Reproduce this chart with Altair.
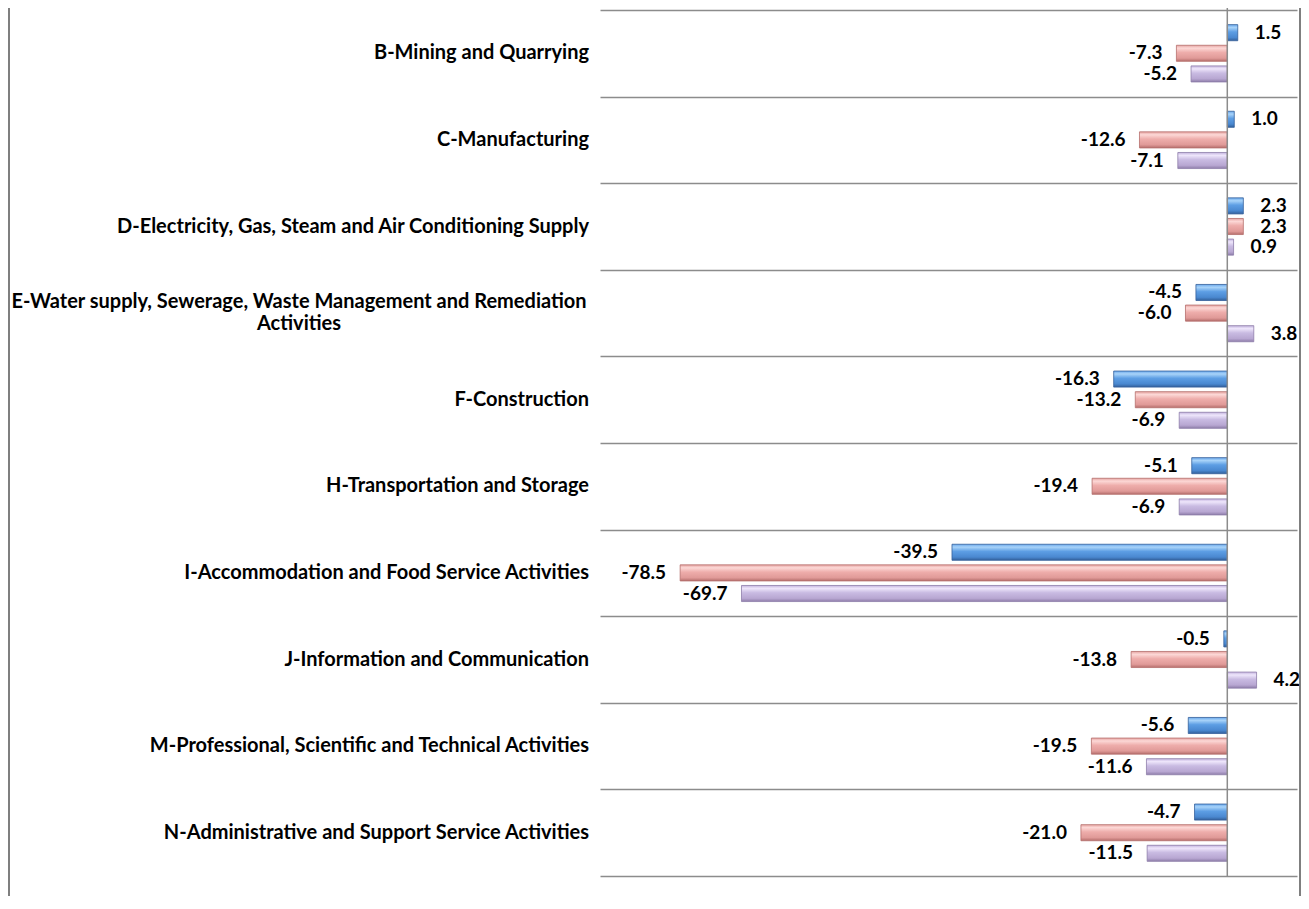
import altair as alt
import pandas as pd

categories = [
    "B-Mining and Quarrying",
    "C-Manufacturing",
    "D-Electricity, Gas, Steam and Air Conditioning Supply",
    "E-Water supply, Sewerage, Waste Management and Remediation|Activities",
    "F-Construction",
    "H-Transportation and Storage",
    "I-Accommodation and Food Service Activities",
    "J-Information and Communication",
    "M-Professional, Scientific and Technical Activities",
    "N-Administrative and Support Service Activities",
]
series = ["Series 1", "Series 2", "Series 3"]
series1 = [1.5, 1.0, 2.3, -4.5, -16.3, -5.1, -39.5, -0.5, -5.6, -4.7]
series2 = [-7.3, -12.6, 2.3, -6.0, -13.2, -19.4, -78.5, -13.8, -19.5, -21.0]
series3 = [-5.2, -7.1, 0.9, 3.8, -6.9, -6.9, -69.7, 4.2, -11.6, -11.5]

rows = []
for s, vals in zip(series, [series1, series2, series3]):
    for c, v in zip(categories, vals):
        rows.append({"cat": c, "series": s, "value": v, "lbl": f"{v:.1f}"})
df = pd.DataFrame(rows)
cat_df = pd.DataFrame({"cat": categories, "multi": ["|" in c for c in categories]})

W, H = 697, 866
LEFT = 592
FONT = "Lato"
FS = 20
VFS = 19
GRID = "#8c8c8c"

y_enc = alt.Y(
    "cat:N",
    sort=categories,
    scale=alt.Scale(domain=categories, paddingInner=0, paddingOuter=0),
    axis=alt.Axis(
        title=None, domain=False, ticks=False, labels=False, grid=True, tickBand="extent",
        gridColor=GRID, gridWidth=1.5,
    ),
)
yoff = alt.YOffset(
    "series:N", sort=series,
    scale=alt.Scale(domain=series, paddingInner=0.22, paddingOuter=0.71),
)
x_enc = alt.X("value:Q", scale=alt.Scale(domain=[-90, 10], nice=False, zero=False), axis=None)

grads = {
    "Series 1": ["#6aa8ec", "#a8d3f9", "#5d9ee4", "#4a88d0", "#33609a"],
    "Series 2": ["#e6a4a2", "#fcd8d6", "#eeadab", "#e09a98", "#b56e6c"],
    "Series 3": ["#c3b3de", "#eee6fb", "#c9bbe2", "#b8a7d2", "#8e7da9"],
}
offs = [0, 0.18, 0.45, 0.8, 1]

base = alt.Chart(df)
layers = []
for s in series:
    g = alt.Gradient(
        gradient="linear", x1=0, y1=0, x2=0, y2=1,
        stops=[alt.GradientStop(offset=o, color=c) for o, c in zip(offs, grads[s])],
    )
    layers.append(
        base.transform_filter(alt.datum.series == s)
        .mark_bar(color=g, stroke=grads[s][4], strokeWidth=0.8)
        .encode(x=x_enc, y=y_enc, yOffset=yoff)
    )

val_common = dict(font=FONT, fontWeight="bold", fontSize=VFS, color="#000000", baseline="middle")
pos_text = base.transform_filter(alt.datum.value >= 0).mark_text(align="left", dx=17, **val_common).encode(
    x=x_enc, y=y_enc, yOffset=yoff, text="lbl:N"
)
neg_text = base.transform_filter(alt.datum.value < 0).mark_text(align="right", dx=-14, **val_common).encode(
    x=x_enc, y=y_enc, yOffset=yoff, text="lbl:N"
)

cat_common = dict(font=FONT, fontWeight="bold", fontSize=FS, color="#000000", baseline="middle")
cat_base = alt.Chart(cat_df)
cat_single = cat_base.transform_filter("!datum.multi").mark_text(align="right", **cat_common).encode(
    y=y_enc, x=alt.value(-11), text="cat:N"
)
cat_multi = cat_base.transform_filter("datum.multi").mark_text(
    align="center", lineBreak="|", lineHeight=22, dy=-11, **cat_common
).encode(y=y_enc, x=alt.value(-301), text="cat:N")

zero = alt.Chart(pd.DataFrame({"value": [0]})).mark_rule(color=GRID, strokeWidth=1.5).encode(
    x=x_enc, y=alt.value(-10), y2=alt.value(H)
)

frame_left = alt.Chart(pd.DataFrame({"a": [0]})).mark_rule(color="#555555", strokeWidth=1.5).encode(
    x=alt.value(-(LEFT - 1)), y=alt.value(-10), y2=alt.value(H + 40)
)
frame_right = alt.Chart(pd.DataFrame({"a": [0]})).mark_rule(color="#555555", strokeWidth=1.5).encode(
    x=alt.value(700), y=alt.value(-10), y2=alt.value(H + 40)
)

chart = alt.layer(*layers, zero, pos_text, neg_text, cat_single, cat_multi, frame_left, frame_right).properties(
    width=W, height=H,
    padding={"left": LEFT, "top": 2, "right": 4, "bottom": 20},
    autosize=alt.AutoSizeParams(type="none"),
).configure_view(stroke="transparent")

chart.save("out.html", embed_options={"renderer": "svg", "actions": False})
